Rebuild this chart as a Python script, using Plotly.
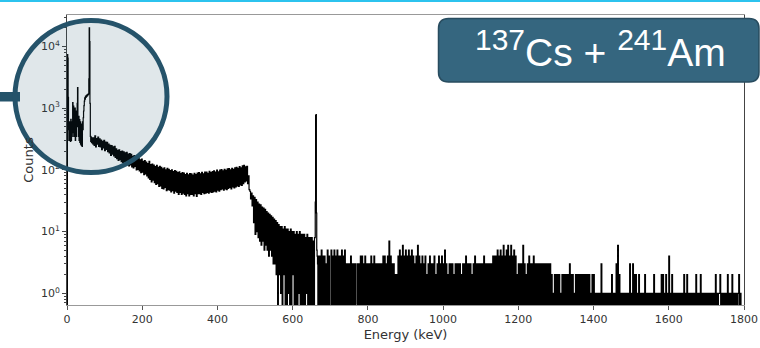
import plotly.graph_objects as go

# ---------------- data ----------------
# 0-69 keV, 1 keV channels
low_counts = [0, 7400, 6500, 1500, 450, 300, 600, 320, 550, 290,
              660, 300, 500, 350, 600, 1230, 400, 1080, 350, 950,
              400, 1000, 300, 900, 350, 800, 500, 1200, 2150, 700,
              350, 740, 300, 650, 280, 600, 260, 550, 250, 500,
              240, 600, 450, 700, 900, 1100, 1300, 1470, 1400, 1550,
              1500, 1600, 1550, 1650, 1600, 1680, 1650, 1700, 3000, 20000,
              12000, 1200, 350, 290, 340, 280, 330, 270, 320, 260]

# 70-658 keV, 2 keV channels
mid_counts = [330, 250, 355, 235, 320, 262, 340, 240, 318, 236,
              305, 212, 290, 228, 300, 205, 282, 214, 280, 198,
              262, 188, 250, 172, 248, 180, 236, 168, 240, 160,
              220, 152, 208, 142, 212, 146, 198, 136, 202, 132,
              196, 134, 188, 124, 192, 128, 180, 116, 184, 120,
              178, 112, 166, 108, 170, 114, 156, 100, 162, 102,
              155, 96, 146, 90, 150, 92, 138, 84, 142, 86,
              134, 80, 126, 74, 138, 70, 122, 64, 124, 68,
              120, 62, 113, 58, 118, 60, 110, 54, 114, 55,
              110, 50, 104, 49, 108, 52, 100, 46, 106, 48,
              102, 47, 97, 44, 100, 46, 94, 42, 97, 45,
              95, 43, 90, 40, 93, 43, 87, 40, 90, 42,
              89, 40, 84, 38, 88, 41, 83, 38, 87, 40,
              86, 40, 82, 38, 88, 41, 84, 37, 89, 41,
              90, 41, 86, 40, 91, 43, 86, 41, 92, 42,
              92, 43, 88, 42, 95, 44, 90, 43, 94, 44,
              96, 45, 92, 44, 99, 47, 93, 45, 99, 48,
              101, 49, 96, 47, 102, 49, 98, 48, 104, 50,
              105, 52, 100, 49, 106, 53, 102, 51, 108, 53,
              110, 55, 106, 54, 113, 57, 108, 56, 116, 60,
              118, 64, 112, 66, 114, 60, 80, 48, 45, 34,
              42, 26, 38, 14, 36, 9, 33, 10, 30, 8,
              28, 7, 27, 6, 25, 7, 24, 5, 23, 6,
              21, 5, 20, 4, 19, 5, 18, 4, 17, 3,
              16, 3, 15, 2, 14, 0, 13, 2, 12, 1,
              12, 0, 11, 2, 12, 0, 11, 0, 11, 1,
              10, 0, 11, 0, 10, 2, 10, 0, 9, 0,
              10, 0, 9, 1, 10, 0, 9, 0, 9, 0,
              9, 0, 8, 1, 9, 0, 8, 0, 8, 0,
              8, 0, 7, 0, 8]

# 660-669 keV, 1 keV channels (137Cs photopeak)
peak_counts = [30, 760, 790, 20, 5, 4, 3, 0, 4, 3]

# 670-1798 keV, 2 keV channels, one digit per channel (100 keV per row)
tail_rows = [
    "040504040305040" "05040504050404050405" "030303040303030",
    "030304" "040304030303040304" "0303030303" "0404030407040303",
    "0202" "0405040604050405040504" "0304060403" "04030402030403",
    "03040203040304030503020303030203030303020303040303",
    "03020304030303030304030303030304040405040504060405",
    "06040604050402030303060302030403030403030303030303",
    "03030303020102020202010202020202030202010202020202",
    "02020202020102020101010103010101010101020101030602",
    "01010101010103010302020102010101020101010101020101",
    "01010202010201040102010101010101010201020101010101",
    "02010102010101010101010101020101120101010102010102",
    "010101012010000",
]
tail_counts = [int(c) for c in "".join(tail_rows)]

segments = [
    (0, 1, low_counts),
    (70, 2, mid_counts),
    (660, 1, peak_counts),
    (670, 2, tail_counts),
]

x_ticks = [0, 200, 400, 600, 800, 1000, 1200, 1400, 1600, 1800]
y_ticks = [1, 10, 100, 1000, 10000]
y_ticktext = ["10<sup>0</sup>", "10<sup>1</sup>", "10<sup>2</sup>",
              "10<sup>3</sup>", "10<sup>4</sup>"]
sup_style = '<sup><span style="font-size:30px">%s</span></sup>'
source_label = sup_style % "137" + "Cs + " + sup_style % "241" + "Am"

# ---------------- build the step series ----------------
energy, counts = [], []
for start, width, vals in segments:
    for i, v in enumerate(vals):
        energy.append(start + width * i)
        counts.append(v)
energy.append(1800)
counts.append(0)

ZERO_FLOOR = 0.01   # empty channels drop below the axis, as log(0) does
y_plot = [c if c > 0 else ZERO_FLOOR for c in counts]

# ---------------- geometry helpers ----------------
W, H = 760, 348
ML, MR, MT, MB = 67, 16, 15, 43
PW, PH = W - ML - MR, H - MT - MB


def px(x, y):
    return (x - ML) / PW, 1 - (y - MT) / PH


def rounded_path(L, T, R, B, r):
    pts = [("M", [(L + r, T)]), ("L", [(R - r, T)]), ("Q", [(R, T), (R, T + r)]),
           ("L", [(R, B - r)]), ("Q", [(R, B), (R - r, B)]), ("L", [(L + r, B)]),
           ("Q", [(L, B), (L, B - r)]), ("L", [(L, T + r)]), ("Q", [(L, T), (L + r, T)])]
    s = ""
    for cmd, ps in pts:
        s += cmd + " " + " ".join("%.5f,%.5f" % px(a, b) for a, b in ps) + " "
    return s + "Z"


teal = "#25536a"
shapes = []
# cyan rule along the top of the slide
x0, y0 = px(-5, 0)
x1, y1 = px(765, 2)
shapes.append(dict(type="rect", xref="paper", yref="paper", x0=x0, x1=x1, y0=y0, y1=y1,
                   fillcolor="#2cc3ee", line=dict(width=0), layer="above"))
# connector bar to the magnifier circle
x0, y0 = px(-5, 92)
x1, y1 = px(20, 101.5)
shapes.append(dict(type="rect", xref="paper", yref="paper", x0=x0, x1=x1, y0=y0, y1=y1,
                   fillcolor=teal, line=dict(width=0), layer="above"))
# magnifier circle
x0, y0 = px(15, 20.5)
x1, y1 = px(167, 172.5)
shapes.append(dict(type="circle", xref="paper", yref="paper", x0=x0, x1=x1, y0=y0, y1=y1,
                   fillcolor="rgba(36,84,107,0.14)", line=dict(color=teal, width=5),
                   layer="above"))
# label box
shapes.append(dict(type="path", xref="paper", yref="paper",
                   path=rounded_path(438.5, 18.5, 759, 82, 10),
                   fillcolor="#35667f", line=dict(color="#284c5f", width=1.5),
                   layer="above"))

tx, ty = px(600, 48)
annotations = [dict(xref="paper", yref="paper", x=tx, y=ty, xanchor="center",
                    yanchor="middle", showarrow=False, text=source_label,
                    font=dict(family="Liberation Sans, Arial", size=39, color="white"))]

minor_vals = [m * 10 ** d for d in range(-1, 5) for m in range(2, 10)]

fig = go.Figure(go.Scatter(x=energy, y=y_plot, mode="lines",
                           line=dict(color="black", width=1.2, shape="hv"),
                           hoverinfo="skip", showlegend=False))

tick_font = dict(family="DejaVu Sans", size=11, color="#333")
fig.update_layout(
    width=W, height=H,
    margin=dict(l=ML, r=MR, t=MT, b=MB, pad=0, autoexpand=False),
    paper_bgcolor="white", plot_bgcolor="white",
    shapes=shapes, annotations=annotations,
    xaxis=dict(range=[0, 1800], tickmode="array", tickvals=x_ticks,
               ticks="outside", ticklen=4, tickcolor="#555", tickfont=tick_font,
               showline=True, linecolor="#999", linewidth=1, mirror=True,
               showgrid=False, zeroline=False, automargin=False,
               title=dict(text="Energy (keV)", standoff=4,
                          font=dict(family="DejaVu Sans", size=13, color="#333"))),
    yaxis=dict(type="log", range=[-0.19, 4.51], tickmode="array", tickvals=y_ticks,
               ticktext=y_ticktext, ticks="outside", ticklen=4, tickcolor="#444",
               tickfont=tick_font, showline=True, linecolor="#444", linewidth=1,
               mirror=True, showgrid=False, zeroline=False, automargin=False,
               minor=dict(tickmode="array", tickvals=minor_vals, ticks="outside",
                          ticklen=2, tickcolor="#444", showgrid=False),
               title=dict(text="Counts", standoff=4,
                          font=dict(family="DejaVu Sans", size=13, color="#333"))),
)

fig.write_html("out.html", config={"displayModeBar": False},
               post_script="document.body.style.margin='0';")
